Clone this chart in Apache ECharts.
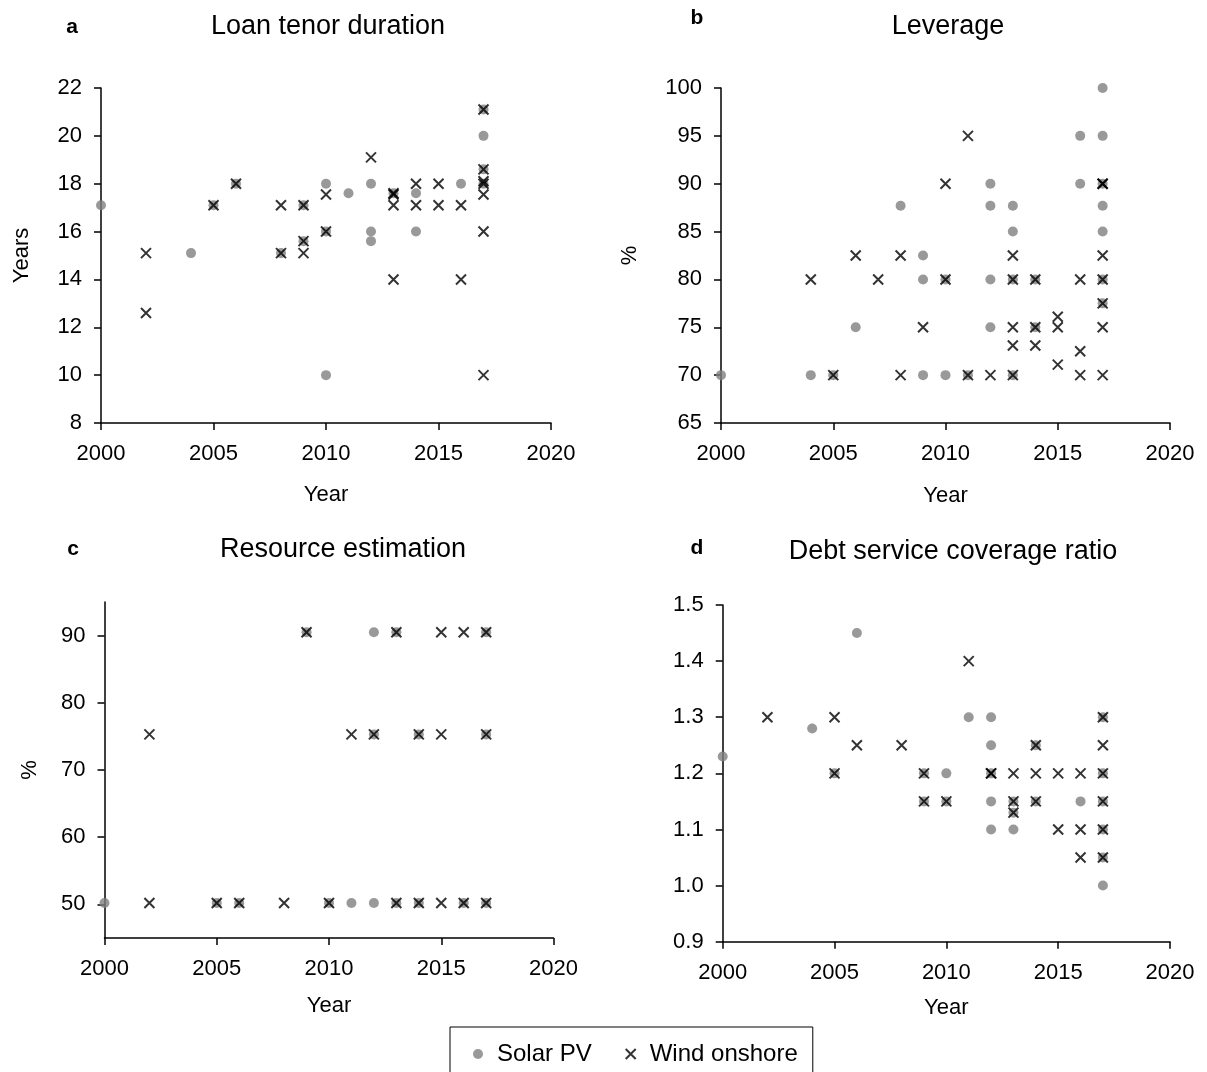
<!DOCTYPE html>
<html><head><meta charset="utf-8">
<script src="https://cdn.jsdelivr.net/npm/echarts@6/dist/echarts.min.js"></script>
<style>html,body{margin:0;padding:0;background:#fff}#c{width:1207px;height:1072px}</style>
</head><body><div id="c"></div>
<script>
// Panel a: Loan tenor duration (years)
const loanSolar = [[2000,17.1],[2004,15.1],[2005,17.1],[2006,18.0],[2008,15.1],[2009,17.1],[2009,15.6],[2010,18.0],[2010,16.0],[2010,10.0],[2011,17.6],[2012,18.0],[2012,16.0],[2012,15.6],[2013,17.6],[2014,17.6],[2014,16.0],[2016,18.0],[2017,21.1],[2017,20.0],[2017,18.6],[2017,18.0]];
const loanWind = [[2002,15.1],[2002,12.6],[2005,17.1],[2006,18.0],[2008,17.1],[2008,15.1],[2009,17.1],[2009,15.6],[2009,15.1],[2010,17.55],[2010,16.0],[2012,19.1],[2013,17.6],[2013,17.55],[2013,17.1],[2013,14.0],[2014,18.0],[2014,17.1],[2015,18.0],[2015,17.1],[2016,17.1],[2016,14.0],[2017,21.1],[2017,18.6],[2017,18.1],[2017,18.0],[2017,17.55],[2017,16.0],[2017,10.0]];
// Panel b: Leverage (%)
const levSolar = [[2000,70],[2004,70],[2005,70],[2006,75],[2008,87.7],[2009,82.5],[2009,80],[2009,70],[2010,80],[2010,70],[2011,70],[2012,90],[2012,87.7],[2012,80],[2012,75],[2013,87.7],[2013,85],[2013,80],[2013,70],[2014,80],[2014,75],[2016,95],[2016,90],[2017,100],[2017,95],[2017,90],[2017,87.7],[2017,85],[2017,80],[2017,77.5]];
const levWind = [[2004,80],[2005,70],[2006,82.5],[2007,80],[2008,82.5],[2008,70],[2009,75],[2010,90],[2010,80],[2011,95],[2011,70],[2012,70],[2013,82.5],[2013,80],[2013,75],[2013,73.1],[2013,70],[2014,80],[2014,75],[2014,73.1],[2015,76.1],[2015,75],[2015,71.1],[2016,80],[2016,72.5],[2016,70],[2017,90],[2017,90],[2017,82.5],[2017,80],[2017,77.5],[2017,75],[2017,70]];
// Panel c: Resource estimation (%)
const resSolar = [[2000,50.2],[2005,50.2],[2006,50.2],[2009,90.5],[2010,50.2],[2011,50.2],[2012,90.5],[2012,75.3],[2012,50.2],[2013,90.5],[2013,50.2],[2014,75.3],[2014,50.2],[2016,50.2],[2017,90.5],[2017,75.3],[2017,50.2]];
const resWind = [[2002,75.3],[2002,50.2],[2005,50.2],[2006,50.2],[2008,50.2],[2009,90.5],[2010,50.2],[2011,75.3],[2012,75.3],[2013,90.5],[2013,50.2],[2014,75.3],[2014,50.2],[2015,90.5],[2015,75.3],[2015,50.2],[2016,90.5],[2016,50.2],[2017,90.5],[2017,75.3],[2017,50.2]];
// Panel d: Debt service coverage ratio
const dscrSolar = [[2000,1.23],[2004,1.28],[2005,1.2],[2006,1.45],[2009,1.2],[2009,1.15],[2010,1.2],[2010,1.15],[2011,1.3],[2012,1.3],[2012,1.25],[2012,1.2],[2012,1.15],[2012,1.1],[2013,1.15],[2013,1.13],[2013,1.1],[2014,1.25],[2014,1.15],[2016,1.15],[2017,1.3],[2017,1.2],[2017,1.15],[2017,1.1],[2017,1.05],[2017,1.0]];
const dscrWind = [[2002,1.3],[2005,1.3],[2005,1.2],[2006,1.25],[2008,1.25],[2009,1.2],[2009,1.15],[2010,1.15],[2011,1.4],[2012,1.2],[2012,1.2],[2013,1.2],[2013,1.15],[2013,1.13],[2014,1.25],[2014,1.2],[2014,1.15],[2015,1.2],[2015,1.1],[2016,1.2],[2016,1.1],[2016,1.05],[2017,1.3],[2017,1.25],[2017,1.2],[2017,1.15],[2017,1.1],[2017,1.05]];

const panelTitles = ['Loan tenor duration','Leverage','Resource estimation','Debt service coverage ratio'];
const panelLetters = ['a','b','c','d'];
const yNames = ['Years','%','%',''];
const legendNames = ['Solar PV','Wind onshore'];
const dscrTicks = [0.9,1.0,1.1,1.2,1.3,1.4,1.5];
const resTicks = [50,60,70,80,90];

const FONT = 'Liberation Sans, Arial, sans-serif';
const CROSS = 'path://M0,0L10,10M10,0L0,10';

const grids = [
  {left:101, top:88, width:450, height:335},
  {left:721, top:88, width:449, height:335},
  {left:104.5, top:602, width:449, height:336},
  {left:722.7, top:605, width:447.3, height:336.7}
];

function xAx(i, gap){
  return {type:'value', gridIndex:i, min:2000, max:2020, interval:5,
    name:'Year', nameLocation:'middle', nameGap:gap,
    nameTextStyle:{fontSize:22, color:'#000', fontFamily:FONT},
    axisLine:{show:true, onZero:false, lineStyle:{color:'#000', width:1.5}},
    axisTick:{show:true, inside:false, length:7, lineStyle:{color:'#000', width:1.5}},
    axisLabel:{fontSize:22, color:'#000', margin:20, fontFamily:FONT, formatter:v=>String(v)},
    splitLine:{show:false}};
}
function yAx(i, extra, gap){
  const base = {type:'value', gridIndex:i,
    name:yNames[i], nameLocation:'middle', nameGap:gap, nameRotate:90,
    nameTextStyle:{fontSize:22, color:'#000', fontFamily:FONT},
    axisLine:{show:true, onZero:false, lineStyle:{color:'#000', width:1.5}},
    axisTick:{show:true, inside:false, length:7, lineStyle:{color:'#000', width:1.5}},
    axisLabel:{fontSize:22, color:'#000', margin:19, fontFamily:FONT},
    splitLine:{show:false}};
  return Object.assign(base, extra, {
    axisLabel:Object.assign(base.axisLabel, extra.axisLabel||{}),
    axisTick:Object.assign(base.axisTick, extra.axisTick||{})
  });
}

function solar(i, data){
  return {name:legendNames[0], type:'scatter', xAxisIndex:i, yAxisIndex:i, data:data,
    symbol:'circle', symbolSize:10, itemStyle:{color:'#808080'}, z:2, silent:true};
}
function wind(i, data){
  return {name:legendNames[1], type:'scatter', xAxisIndex:i, yAxisIndex:i, data:data,
    symbol:CROSS, symbolSize:10, itemStyle:{color:'rgba(0,0,0,0)', borderColor:'#000', borderWidth:2}, z:3, silent:true};
}

const titlePos = [[328,27],[948,27],[343,550],[953,552]];
const letterPos = [[72,27],[697,18],[73,549],[697,548]];
const graphics = [];
for (let i=0;i<4;i++){
  graphics.push({type:'text', x:titlePos[i][0], y:titlePos[i][1],
    style:{text:panelTitles[i], fontSize:27, fontFamily:FONT, fill:'#000', textAlign:'center', textVerticalAlign:'middle'}});
  graphics.push({type:'text', x:letterPos[i][0], y:letterPos[i][1],
    style:{text:panelLetters[i], fontSize:21, fontWeight:'bold', fontFamily:FONT, fill:'#000', textAlign:'center', textVerticalAlign:'middle'}});
}

const option = {
  animation:false,
  backgroundColor:'#fff',
  textStyle:{fontFamily:FONT},
  grid:grids,
  xAxis:[xAx(0,61), xAx(1,62), xAx(2,57), xAx(3,55)],
  yAxis:[
    yAx(0,{min:8, max:22, interval:2}, 68),
    yAx(1,{min:65, max:100, interval:5}, 80),
    yAx(2,{min:45, max:95, axisLabel:{customValues:resTicks}, axisTick:{customValues:resTicks}}, 64),
    yAx(3,{min:0.9, max:1.5, axisLabel:{customValues:dscrTicks, formatter:v=>Number(v).toFixed(1)}, axisTick:{customValues:dscrTicks}}, 60)
  ],
  legend:{data:legendNames, left:450, top:1027, orient:'horizontal',
    itemWidth:10, itemHeight:10, itemGap:33,
    padding:[15,15,17,23], borderColor:'#000', borderWidth:1,
    textStyle:{fontSize:24, color:'#000', fontFamily:FONT, padding:[0,0,0,9]}},
  graphic:graphics,
  series:[
    solar(0,loanSolar), wind(0,loanWind),
    solar(1,levSolar), wind(1,levWind),
    solar(2,resSolar), wind(2,resWind),
    solar(3,dscrSolar), wind(3,dscrWind)
  ]
};
const chart = echarts.init(document.getElementById('c'));
chart.setOption(option);
</script>
</body></html>
